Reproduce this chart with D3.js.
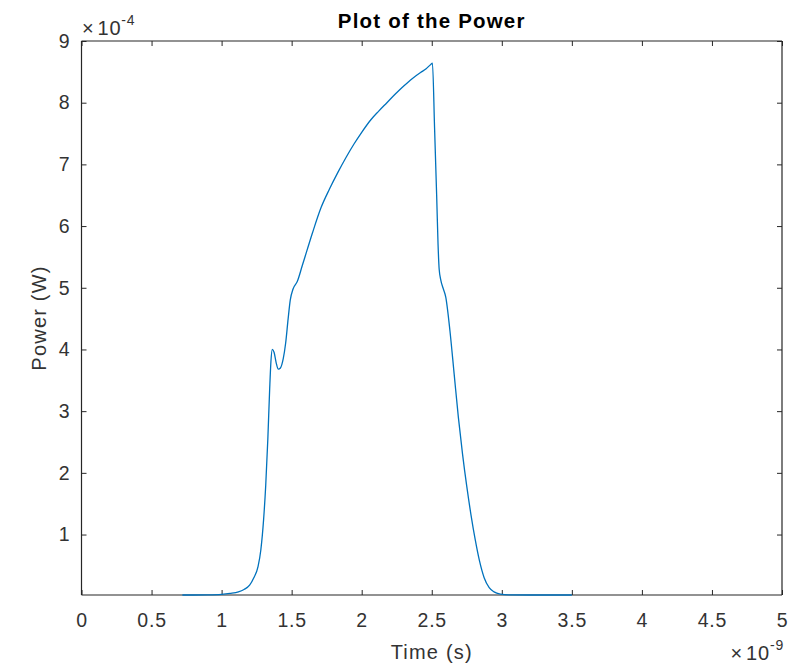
<!DOCTYPE html>
<html>
<head>
<meta charset="utf-8">
<script src="https://cdn.jsdelivr.net/npm/d3@7"></script>
<style>
  html, body { margin: 0; padding: 0; background: #fff; }
  svg { display: block; font-family: "Liberation Sans", Arial, sans-serif; }
</style>
</head>
<body>
<svg id="chart" width="793" height="668"></svg>
<script>
// Time in units of 1e-9 s
const timeNs = [0.72, 0.8, 0.9, 1.0, 1.06, 1.12, 1.16, 1.2, 1.23, 1.26, 1.28, 1.30, 1.315, 1.33, 1.343, 1.352, 1.362, 1.375, 1.39, 1.405, 1.42, 1.44, 1.457, 1.475, 1.49, 1.51, 1.54, 1.576, 1.61, 1.65, 1.71, 1.77, 1.83, 1.89, 1.945, 2.0, 2.064, 2.12, 2.18, 2.24, 2.30, 2.36, 2.42, 2.46, 2.493, 2.505, 2.52, 2.535, 2.545, 2.553, 2.565, 2.58, 2.6, 2.63, 2.66, 2.69, 2.72, 2.75, 2.78, 2.81, 2.84, 2.874, 2.91, 2.945, 2.99, 3.05, 3.2, 3.35, 3.5];
// Power in units of 1e-4 W
const powerE4 = [0.02, 0.02, 0.022, 0.03, 0.045, 0.07, 0.11, 0.18, 0.30, 0.48, 0.75, 1.25, 1.8, 2.55, 3.35, 3.8, 4.0, 3.95, 3.78, 3.68, 3.70, 3.85, 4.1, 4.5, 4.8, 4.98, 5.1, 5.36, 5.61, 5.9, 6.3, 6.6, 6.87, 7.12, 7.33, 7.52, 7.72, 7.86, 8.0, 8.14, 8.27, 8.39, 8.49, 8.55, 8.62, 8.64, 7.6, 6.5, 5.7, 5.3, 5.12, 5.0, 4.85, 4.3, 3.6, 2.9, 2.3, 1.78, 1.32, 0.92, 0.58, 0.3, 0.14, 0.07, 0.035, 0.022, 0.02, 0.02, 0.02];

const xTicks = [0, 0.5, 1, 1.5, 2, 2.5, 3, 3.5, 4, 4.5, 5];
const yTicks = [1, 2, 3, 4, 5, 6, 7, 8, 9];
const titleText = "Plot of the Power";
const xLabel = "Time (s)";
const yLabel = "Power (W)";
const xExp = "-9";
const yExp = "-4";

const svg = d3.select("#chart");
const L = 81.5, R = 782, T = 41, B = 595;
const axisColor = "#262626";
const textColor = "#333333";
const FONT = "Liberation Sans, Arial, sans-serif";

const x = d3.scaleLinear().domain([0, 5]).range([L, R]);
const y = d3.scaleLinear().domain([0.02, 9]).range([B, T]);

svg.append("defs").append("clipPath").attr("id", "clip")
  .append("rect").attr("x", L).attr("y", T).attr("width", R - L).attr("height", B - T + 1.5);

const data = timeNs.map((t, i) => ({ t, p: powerE4[i] }));

// Axes
const fmt = d => d3.format("")(d);
const tickLen = 5;

const gx = svg.append("g").attr("transform", `translate(0,${B})`)
  .call(d3.axisBottom(x).tickValues(xTicks).tickFormat(fmt).tickSizeInner(-tickLen).tickSizeOuter(0).tickPadding(18));
const gxTop = svg.append("g").attr("transform", `translate(0,${T})`)
  .call(d3.axisTop(x).tickValues(xTicks).tickFormat("").tickSizeInner(-tickLen).tickSizeOuter(0));
const gy = svg.append("g").attr("transform", `translate(${L},0)`)
  .call(d3.axisLeft(y).tickValues(yTicks).tickFormat(fmt).tickSizeInner(-tickLen).tickSizeOuter(0).tickPadding(11));
const gyR = svg.append("g").attr("transform", `translate(${R},0)`)
  .call(d3.axisRight(y).tickValues(yTicks).tickFormat("").tickSizeInner(-tickLen).tickSizeOuter(0));

[gx, gxTop, gy, gyR].forEach(g => {
  g.select(".domain").attr("stroke", axisColor).attr("stroke-width", 1.2);
  g.selectAll(".tick line").attr("stroke", axisColor).attr("stroke-width", 1);
  g.selectAll(".tick text").attr("fill", textColor).attr("font-size", 19.5)
    .attr("letter-spacing", "0.8px").attr("font-family", FONT);
});
gy.select(".domain").attr("d", `M0,${T}V${B}`);
gyR.select(".domain").attr("d", `M0,${T}V${B}`);
gx.select(".domain").attr("d", `M${L},0H${R}`);
gxTop.select(".domain").attr("d", `M${L},0H${R}`);

// Data line (drawn over the axes, as in the reference)
svg.append("path")
  .datum(data)
  .attr("clip-path", "url(#clip)")
  .attr("fill", "none")
  .attr("stroke", "#0072BD")
  .attr("stroke-width", 1.3)
  .attr("stroke-linejoin", "round")
  .attr("d", d3.line().x(d => x(d.t)).y(d => y(d.p)).curve(d3.curveMonotoneX));

// Title
svg.append("text").attr("x", (L + R) / 2).attr("y", 28)
  .attr("text-anchor", "middle").attr("font-weight", "bold").attr("font-size", 20.5)
  .attr("letter-spacing", "1.2px").attr("fill", "#000").text(titleText);

// Axis labels
svg.append("text").attr("x", (L + R) / 2).attr("y", 659)
  .attr("text-anchor", "middle").attr("font-size", 20).attr("letter-spacing", "1.2px")
  .attr("fill", textColor).text(xLabel);
svg.append("text").attr("transform", `translate(46,${(T + B) / 2}) rotate(-90)`)
  .attr("text-anchor", "middle").attr("font-size", 20).attr("letter-spacing", "1.2px")
  .attr("fill", textColor).text(yLabel);

// Exponent labels
const yE = svg.append("text").attr("x", 82).attr("y", 35).attr("font-size", 20)
  .attr("letter-spacing", "0.8px").attr("fill", textColor);
yE.append("tspan").text("\u00d7");
yE.append("tspan").attr("dx", 3).text("10");
yE.append("tspan").attr("dy", -10).attr("font-size", 14).text(yExp);

const xE = svg.append("text").attr("x", 784).attr("y", 660).attr("text-anchor", "end").attr("font-size", 20)
  .attr("letter-spacing", "0.8px").attr("fill", textColor);
xE.append("tspan").text("\u00d7");
xE.append("tspan").attr("dx", 3).text("10");
xE.append("tspan").attr("dy", -10).attr("font-size", 14).text(xExp);
</script>
</body>
</html>
